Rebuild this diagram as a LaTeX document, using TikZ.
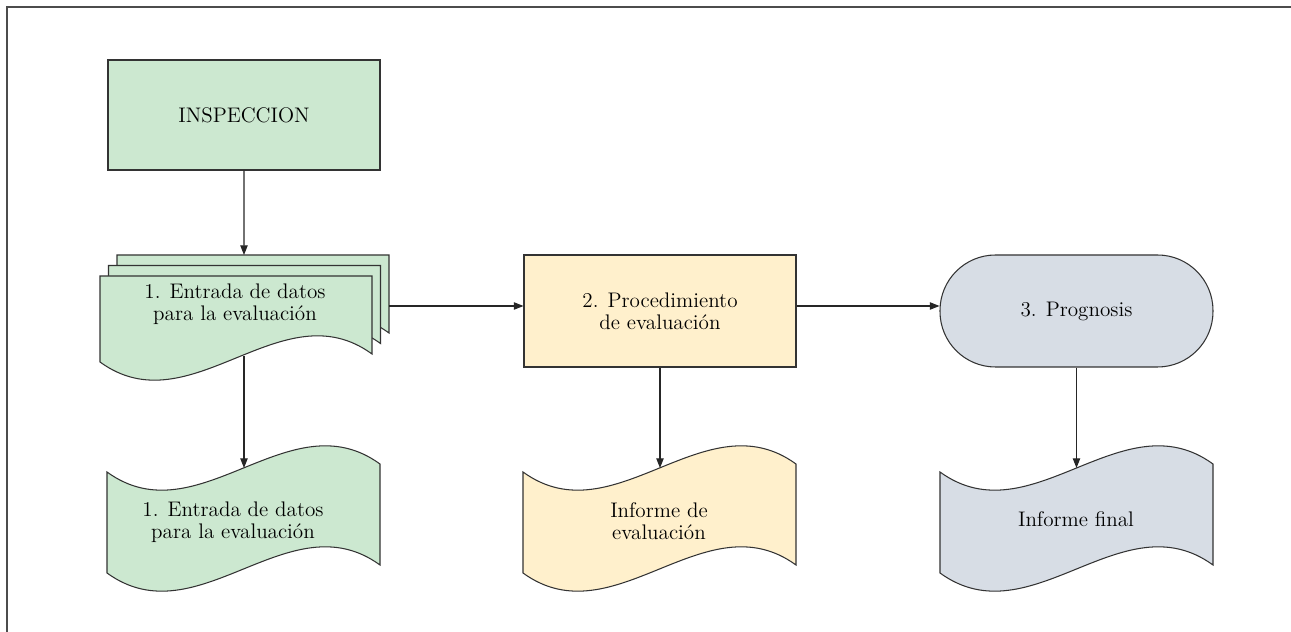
\documentclass[tikz,border=0pt]{standalone}
\usetikzlibrary{arrows.meta}
\definecolor{datagreen}{RGB}{204,232,208}
\definecolor{evalyellow}{RGB}{255,240,204}
\definecolor{finalgrey}{RGB}{215,221,229}
\tikzset{
  shapeline/.style={line width=0.6pt, draw=black!80},
  flowarrow/.style={line width=0.6pt, draw=black!85, -{Triangle[length=5.5pt,width=4.2pt]}},
  boxtext/.style={align=center, font=\fontsize{12}{12.4}\selectfont, inner sep=0pt},
}
\begin{document}
\begin{tikzpicture}
\useasboundingbox (0,0) rectangle (25.820,12.640);
\draw[line width=1pt, draw=black!70] (0.140,0) -- (0.140,12.500) -- (25.820,12.500);
\node[shapeline, fill=datagreen, minimum width=5.440cm, minimum height=2.200cm, boxtext] (insp) at (4.880,10.340) {INSPECCION};
\node[shapeline, fill=evalyellow, minimum width=5.440cm, minimum height=2.240cm, boxtext] (proc) at (13.200,6.420) {2. Procedimiento\\de evaluación};
\node[shapeline, fill=finalgrey, rounded corners=1.110cm, minimum width=5.460cm, minimum height=2.240cm, boxtext] (prog) at (21.530,6.420) {3. Prognosis};
\begin{scope}[shift={(2.340,5.820)}]
\draw[shapeline, fill=datagreen] (0,0) -- (0,1.720) -- (5.440,1.720) -- (5.440,0.160) .. controls (3.627,1.480) and (1.813,-1.320) .. (0,0) -- cycle;
\coordinate (backtop) at (2.540,1.720);
\coordinate (backright) at (5.440,0.700);
\end{scope}
\begin{scope}[shift={(2.170,5.610)}]
\draw[shapeline, fill=datagreen] (0,0) -- (0,1.720) -- (5.440,1.720) -- (5.440,0.160) .. controls (3.627,1.480) and (1.813,-1.320) .. (0,0) -- cycle;
\end{scope}
\begin{scope}[shift={(2.000,5.400)}]
\draw[shapeline, fill=datagreen] (0,0) -- (0,1.720) -- (5.440,1.720) -- (5.440,0.160) .. controls (3.627,1.480) and (1.813,-1.320) .. (0,0) -- cycle;
\coordinate (frontbottom) at (2.880,0.124);
\node[boxtext] (datain) at (2.700,1.160) {1. Entrada de datos\\para la evaluación};
\end{scope}
\begin{scope}[shift={(2.140,1.180)}]
\draw[shapeline, fill=datagreen] (0,0) -- (0,2.020) .. controls (1.820,0.700) and (3.640,3.500) .. (5.460,2.180) -- (5.460,0.160) .. controls (3.640,1.480) and (1.820,-1.320) .. (0,0) -- cycle;
\coordinate (datatop) at (2.740,2.100);
\node[boxtext] (dataout) at (2.520,1.020) {1. Entrada de datos\\para la evaluación};
\end{scope}
\begin{scope}[shift={(10.460,1.180)}]
\draw[shapeline, fill=evalyellow] (0,0) -- (0,2.020) .. controls (1.820,0.700) and (3.640,3.500) .. (5.460,2.180) -- (5.460,0.160) .. controls (3.640,1.480) and (1.820,-1.320) .. (0,0) -- cycle;
\coordinate (evaltop) at (2.740,2.100);
\node[boxtext] (evalout) at (2.720,1.040) {Informe de\\evaluación};
\end{scope}
\begin{scope}[shift={(18.800,1.180)}]
\draw[shapeline, fill=finalgrey] (0,0) -- (0,2.020) .. controls (1.820,0.700) and (3.640,3.500) .. (5.460,2.180) -- (5.460,0.160) .. controls (3.640,1.480) and (1.820,-1.320) .. (0,0) -- cycle;
\coordinate (finaltop) at (2.740,2.100);
\node[boxtext] (finalout) at (2.720,1.080) {Informe final};
\end{scope}
\draw[flowarrow] (insp.south) -- (backtop);
\draw[flowarrow] (backright) -- (backright -| proc.west);
\draw[flowarrow] (proc.east |- backright) -- (backright -| prog.west);
\draw[flowarrow] (frontbottom) -- (frontbottom |- datatop);
\draw[flowarrow] (proc.south) -- (proc.south |- evaltop);
\draw[flowarrow] (prog.south) -- (prog.south |- finaltop);
\end{tikzpicture}
\end{document}
